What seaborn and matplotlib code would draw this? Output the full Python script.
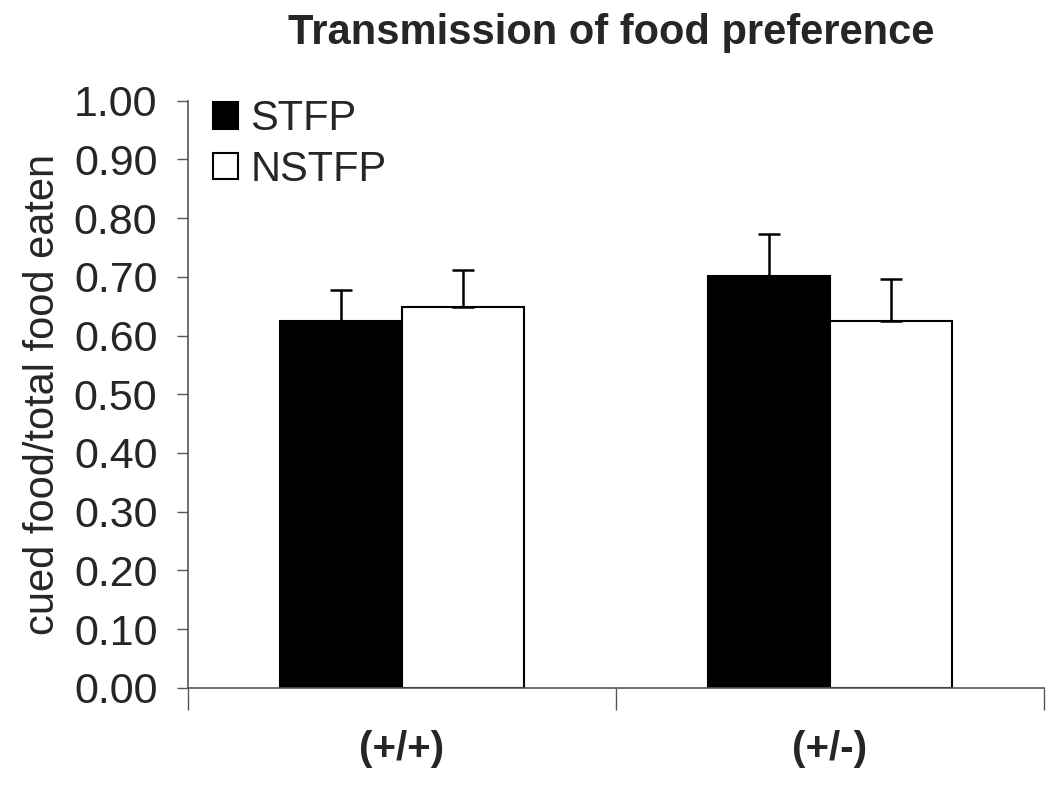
import pandas as pd
import matplotlib.pyplot as plt
import seaborn as sns
from matplotlib.ticker import FixedLocator

# -- data --
genotypes = ["(+/+)", "(+/-)"]
groups = ["STFP", "NSTFP"]
stfp_mean = [0.625, 0.702]
stfp_err = [0.053, 0.071]
nstfp_mean = [0.648, 0.625]
nstfp_err = [0.064, 0.072]

df = pd.DataFrame({
    "genotype": genotypes * 2,
    "group": [groups[0]] * 2 + [groups[1]] * 2,
    "value": stfp_mean + nstfp_mean,
    "err": stfp_err + nstfp_err,
})

sns.set_style("white")
plt.rcParams['font.family'] = ['Liberation Sans', 'DejaVu Sans']

fig = plt.figure(figsize=(10.5, 7.87), dpi=100)
ax = fig.add_axes([0.179, 0.126, 0.815, 0.746])

sns.barplot(data=df, x="genotype", y="value", hue="group", order=genotypes,
            hue_order=groups, palette=["black", "white"], width=0.57,
            edgecolor="black", linewidth=1.5, errorbar=None, ax=ax)

# upper-only error bars on top of each bar
for cont, grp in zip(ax.containers, groups):
    sub = df[df["group"] == grp].set_index("genotype").loc[genotypes]
    xs = [p.get_x() + p.get_width() / 2 for p in cont.patches]
    ax.errorbar(xs, sub["value"], yerr=[[0] * len(xs), sub["err"]],
                fmt="none", ecolor="black", elinewidth=1.8, capsize=8,
                capthick=1.8)

ax.set_ylim(0, 1.0)
ax.set_xlim(-0.5, 1.5)
ax.set_yticks([i / 10 for i in range(11)])
ax.set_yticklabels([f"{i / 10:.2f}" for i in range(11)], fontsize=31)
ax.set_xticks(range(len(genotypes)))
ax.set_xticklabels(genotypes, fontsize=29, fontweight="bold")
ax.xaxis.set_minor_locator(FixedLocator([-0.5, 0.5, 1.5]))
ax.tick_params(axis="x", which="major", length=0, pad=30)
ax.tick_params(axis="x", which="minor", length=16, width=1, color="#555555",
               direction="out", bottom=True)
ax.tick_params(axis="y", length=8, width=1, color="#555555", direction="out",
               left=True, pad=14)

for s in ["top", "right"]:
    ax.spines[s].set_visible(False)
for s in ["left", "bottom"]:
    ax.spines[s].set_color("#555555")
    ax.spines[s].set_linewidth(1.2)

ax.set_xlabel("")
ax.set_ylabel("cued food/total food eaten", fontsize=30, labelpad=8)

leg = ax.legend(loc="upper left", bbox_to_anchor=(0.0, 1.045), frameon=False,
                fontsize=30, handlelength=0.6, handleheight=0.6,
                handletextpad=0.3, labelspacing=0.25, borderaxespad=0.2)

fig.text(0.582, 0.958, "Transmission of food preference", ha="center",
         va="center", fontsize=30, fontweight="bold",
         family=["Liberation Sans Narrow", "Liberation Sans", "DejaVu Sans"])

plt.savefig("out.png", dpi=100)
